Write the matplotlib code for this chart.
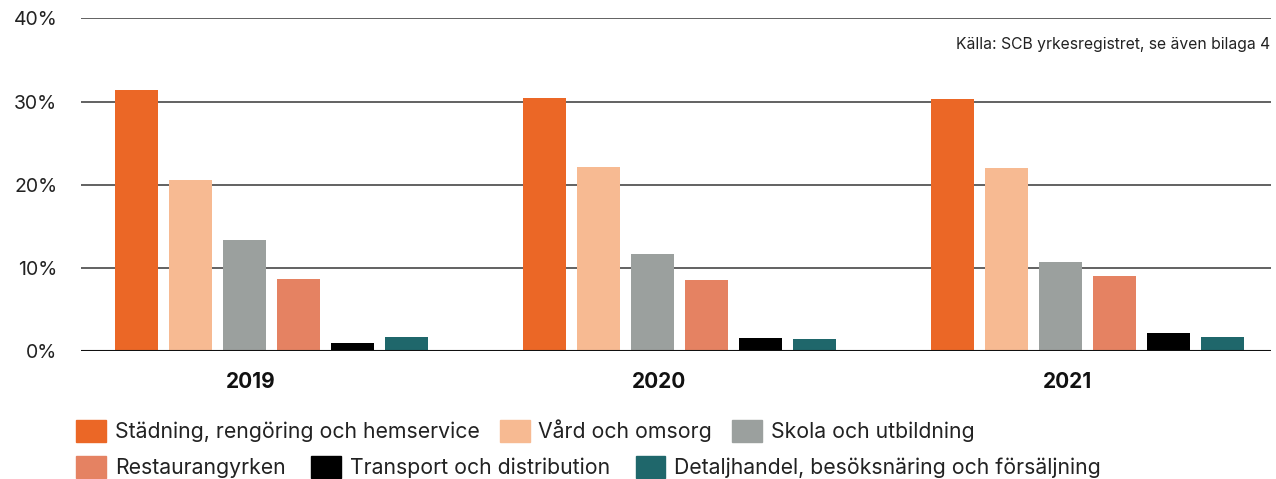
import matplotlib.pyplot as plt
import numpy as np

years = ["2019", "2020", "2021"]
categories = [
    "Städning, rengöring och hemservice",
    "Vård och omsorg",
    "Skola och utbildning",
    "Restaurangyrken",
    "Transport och distribution",
    "Detaljhandel, besöksnäring och försäljning",
]
# share in percent, one list per category (2019, 2020, 2021)
stadning = [31.4, 30.4, 30.3]
vard = [20.6, 22.1, 22.0]
skola = [13.4, 11.7, 10.7]
restaurang = [8.7, 8.55, 9.05]
transport = [1.0, 1.6, 2.2]
detaljhandel = [1.7, 1.5, 1.7]
values = [stadning, vard, skola, restaurang, transport, detaljhandel]
colors = ["#EB6726", "#F7BA92", "#9BA09E", "#E58262", "#000000", "#1F676B"]
source = "Källa: SCB yrkesregistret, se även bilaga 4"

plt.rcParams['font.family'] = ['Inter', 'DejaVu Sans']

fig = plt.figure(figsize=(12.76, 4.79), dpi=100)
ax = fig.add_axes([0.0635, 0.2666, 0.9326, 0.6952])

x = np.arange(len(years))
step = 0.1324
width = 0.105
for i, (vals, col) in enumerate(zip(values, colors)):
    ax.bar(x + (i - 2.5) * step, vals, width, color=col, zorder=3)

ax.set_ylim(0, 40)
ax.set_xlim(-0.467, 2.449)
for s in ax.spines.values():
    s.set_visible(False)
ax.set_yticks([0, 10, 20, 30, 40])
ax.set_yticklabels(["0%", "10%", "20%", "30%", "40%"], fontsize=14, color="#222222")
for yv in [10, 20, 30, 40]:
    ax.axhline(yv, color="#555555", lw=1.3, zorder=1)
ax.axhline(0, color="#111111", lw=1.5, zorder=4)
ax.tick_params(axis="y", length=0, pad=17)
ax.set_xticks(x - 0.05)
ax.set_xticklabels(years, fontsize=15, fontweight="bold", color="#111111")
ax.tick_params(axis="x", length=0, pad=15)

fig.text(1270 / 1276, 1 - 44 / 479, source, ha="right", va="center",
         fontsize=11.3, color="#222222")

handles = [plt.Rectangle((0, 0), 1, 1, color=c) for c in colors]
kw = dict(frameon=False, fontsize=15.3, ncol=3, handlelength=1.41, handleheight=1.22,
          handletextpad=0.42, borderpad=0, borderaxespad=0, loc="center left")
leg1 = fig.legend(handles[:3], categories[:3], bbox_to_anchor=(76 / 1276, 1 - 430.5 / 479),
                  columnspacing=0.94, **kw)
leg2 = fig.legend(handles[3:], categories[3:], bbox_to_anchor=(76 / 1276, 1 - 467 / 479),
                  columnspacing=1.2, **kw)
for leg in (leg1, leg2):
    for t in leg.get_texts():
        t.set_color("#222222")

fig.savefig("out.png", dpi=100)
